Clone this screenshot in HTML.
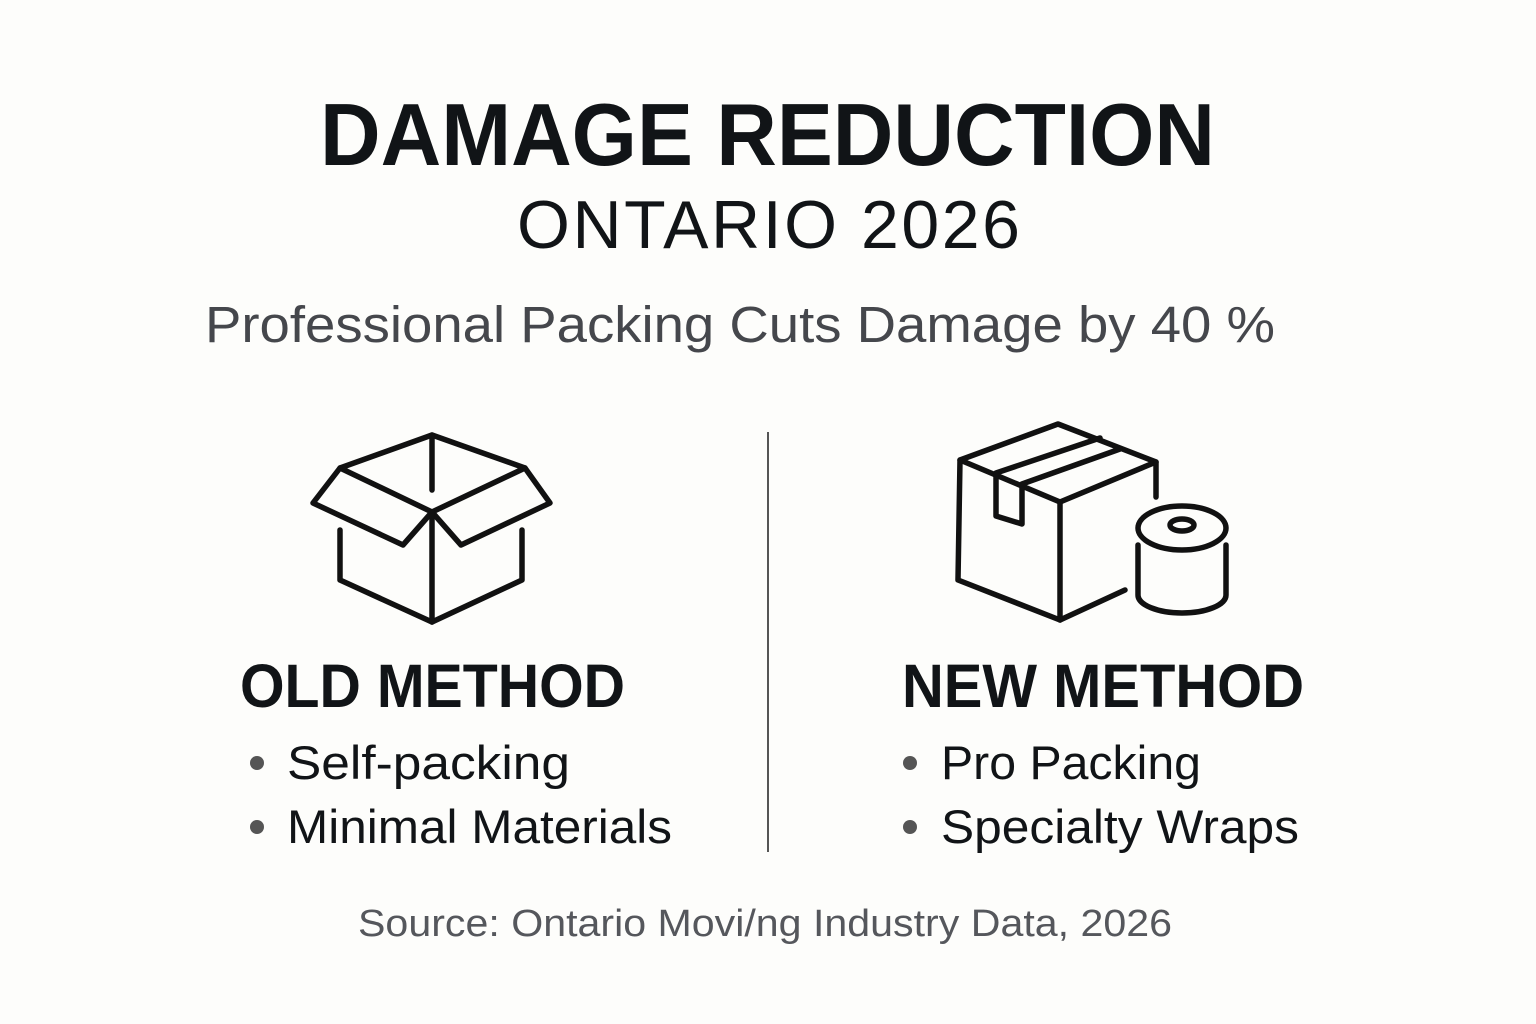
<!DOCTYPE html>
<html><head><meta charset="utf-8"><style>
html,body{margin:0;padding:0;background:#fdfdfb;}
svg{display:block}
text{font-family:"Liberation Sans",sans-serif;}
</style></head><body>
<svg width="1536" height="1024" viewBox="0 0 1536 1024">
<rect width="1536" height="1024" fill="#fdfdfb"/>
<text x="320" y="165" font-size="88" font-weight="bold" fill="#111417" textLength="895" lengthAdjust="spacingAndGlyphs">DAMAGE REDUCTION</text>
<text x="517" y="248" font-size="68" fill="#111417" textLength="503" lengthAdjust="spacing">ONTARIO 2026</text>
<text x="205" y="342" font-size="51" fill="#45474c" textLength="1070" lengthAdjust="spacingAndGlyphs">Professional Packing Cuts Damage by 40 %</text>
<line x1="768" y1="432" x2="768" y2="852" stroke="#555" stroke-width="2"/>
<g fill="none" stroke="#111" stroke-width="5.5" stroke-linejoin="round" stroke-linecap="round">
<!-- old box -->
<polygon points="432,435 340,468 432,512 525,468"/>
<line x1="432" y1="435" x2="432" y2="490"/>
<polyline points="340,468 313,503 403,545 432,512 461,545 550,503 525,468"/>
<polyline points="340,530 340,580 432,622 522,580 522,530"/>
<line x1="432" y1="512" x2="432" y2="622"/>
<!-- new box -->
<polygon points="1058,424 960,460 1060,502 1156,462"/>
<polyline points="960,460 958,580 1060,620 1125,590"/>
<line x1="1060" y1="502" x2="1060" y2="620"/>
<line x1="1156" y1="462" x2="1156" y2="497"/>
<polyline points="1100,438 996,473 996,516 1022,524 1022,484 1120,449"/>
<!-- roll -->
<path d="M1138,545 L1138,595 A44,18 0 0 0 1226,595 L1226,545"/>
<ellipse cx="1182" cy="528" rx="44" ry="22"/>
<ellipse cx="1182" cy="525" rx="12" ry="6"/>
</g>
<text x="240" y="707" font-size="61" font-weight="bold" fill="#111417" textLength="385" lengthAdjust="spacingAndGlyphs">OLD METHOD</text>
<text x="902" y="707" font-size="61" font-weight="bold" fill="#111417" textLength="402" lengthAdjust="spacingAndGlyphs">NEW METHOD</text>
<g fill="#555"><circle cx="257" cy="763" r="7"/><circle cx="257" cy="827" r="7"/><circle cx="910" cy="763" r="7"/><circle cx="910" cy="827" r="7"/></g>
<g font-size="47" fill="#111417">
<text x="287" y="779" textLength="283" lengthAdjust="spacingAndGlyphs">Self-packing</text>
<text x="287" y="843" textLength="385" lengthAdjust="spacingAndGlyphs">Minimal Materials</text>
<text x="941" y="779" textLength="260" lengthAdjust="spacingAndGlyphs">Pro Packing</text>
<text x="941" y="843" textLength="358" lengthAdjust="spacingAndGlyphs">Specialty Wraps</text>
</g>
<text x="358" y="936" font-size="38" fill="#55575c" textLength="814" lengthAdjust="spacingAndGlyphs">Source: Ontario Movi/ng Industry Data, 2026</text>
</svg>
</body></html>
